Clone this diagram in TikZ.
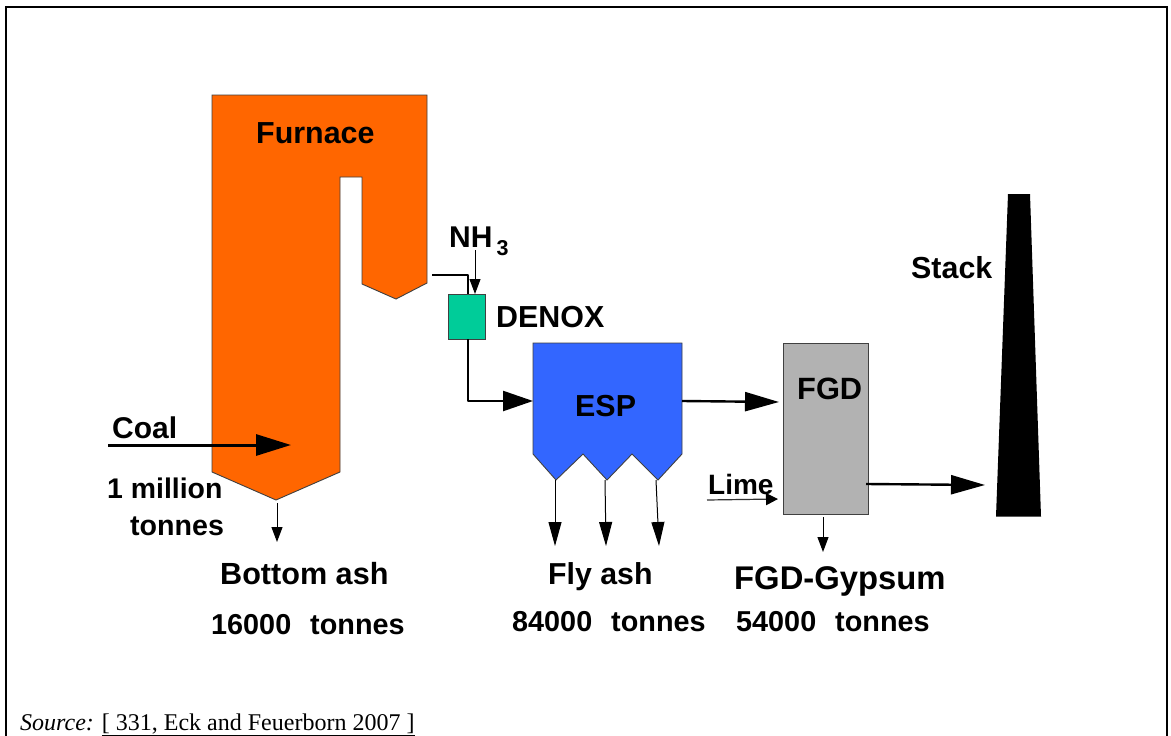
\documentclass[tikz,border=0pt]{standalone}
\usepackage{fontspec}
\setmainfont{Liberation Sans}
\newfontfamily\serifsrc{Liberation Serif}
\usetikzlibrary{arrows.meta}
\definecolor{furn}{HTML}{FF6600}
\definecolor{espc}{HTML}{3366FF}
\definecolor{denoxc}{HTML}{00CC99}
\definecolor{fgdc}{HTML}{B2B2B2}
\tikzset{
  x=1pt,y=-1pt,
  lab/.style={inner sep=0pt,anchor=base west,font=\bfseries\fontsize{#1}{32}\selectfont},
  lab/.default=30.4,
  shapeline/.style={draw=black!75,line width=0.9pt,line join=miter},
  bigflow/.style={line width=3pt,-{Triangle[length=35pt,width=21pt]}},
  midflow/.style={line width=2.4pt,-{Triangle[length=34pt,width=19pt]}},
  thinflow/.style={line width=1pt,-{Triangle[length=15pt,width=11pt]}},
  flyflow/.style={line width=1pt,-{Triangle[length=24pt,width=13pt]}},
  pipe/.style={line width=2.4pt,line join=round},
  boxn/.style={draw=black!75,line width=0.9pt,inner sep=0pt,anchor=north west},
}
\begin{document}
\begin{tikzpicture}
\useasboundingbox (0,0) rectangle (1171,736);
\fill[white] (0,0) rectangle (1171,736);
\draw[line width=1.8pt] (6,740) -- (6,7) -- (1167,7) -- (1167,740);
% furnace
\draw[shapeline,fill=furn] (212,95) -- (427,95) -- (427,283) -- (396,299) -- (362,284) -- (362,177) -- (340,177) -- (340,472) -- (276,500) -- (212,472) -- cycle;
% ESP
\draw[shapeline,fill=espc] (533,343) -- (682,343) -- (682,454) -- (658,480) -- (632,454) -- (607,480) -- (583,454) -- (556,480) -- (533,454) -- cycle;
% stack
\fill[black] (1008,194) -- (1030,194) -- (1041,516.5) -- (996,516.5) -- cycle;
% boxes
\node[boxn,fill=denoxc,minimum width=36.5pt,minimum height=44.5pt] (denox) at (448,294) {};
\node[boxn,fill=fgdc,minimum width=84.5pt,minimum height=171pt] (fgd) at (783,343) {};
% connector ends
\coordinate (furnout) at (432,275);
\coordinate (bend) at (468,275);
\coordinate (denoxin) at (468,294);
\coordinate (denoxout) at (468,339);
\coordinate (bend2) at (468,401);
\coordinate (espin) at (533,401);
\coordinate (espout) at (682,401);
\coordinate (fgdin) at (779,402);
\coordinate (fgdout) at (866,484);
\coordinate (stackin) at (985,485);
\coordinate (nhtop) at (475,250);
\coordinate (nhend) at (475,294);
\coordinate (coalstart) at (108,445);
\coordinate (coalend) at (291,445);
\coordinate (furnbot) at (277,503);
\coordinate (botend) at (277,542);
\coordinate (hopa) at (555,480);
\coordinate (hopaend) at (555,546);
\coordinate (hopb) at (605,480);
\coordinate (hopbend) at (606,546);
\coordinate (hopc) at (656,480);
\coordinate (hopcend) at (659,546);
\coordinate (limestart) at (707,500);
\coordinate (limeend) at (778,499);
\coordinate (gypstart) at (823,517);
\coordinate (gypend) at (823,552);
% connectors
\draw[pipe] (furnout) -- (bend) -- (denoxin);
\draw[pipe,-{Triangle[length=30pt,width=20pt]}] (denoxout) -- (bend2) -- (espin);
\draw[thinflow] (nhtop) -- (nhend);
\draw[bigflow] (coalstart) -- (coalend);
\draw[thinflow] (furnbot) -- (botend);
\draw[midflow] (espout) -- (fgdin);
\draw[midflow] (fgdout) -- (stackin);
\draw[flyflow] (hopa) -- (hopaend);
\draw[flyflow] (hopb) -- (hopbend);
\draw[flyflow] (hopc) -- (hopcend);
\draw[line width=1.2pt,black!80,-{Triangle[length=12pt,width=12pt,black]}] (limestart) -- (limeend);
\draw[thinflow] (gypstart) -- (gypend);
% labels
\node[lab] (t1) at (256,143) {Furnace};
\node[lab=30] (t2) at (449,247) {NH\raisebox{-8pt}{\fontsize{21.5}{22}\selectfont\hspace{4pt}3}};
\node[lab] (t3) at (496,327) {DENOX};
\node[lab] (t4) at (575,416) {ESP};
\node[lab=30.8] (t5) at (797,399) {FGD};
\node[lab] (t6) at (911,278) {Stack};
\node[lab=30] (t7) at (112,438) {Coal};
\node[lab=28.4] (t8) at (107,498) {1 million};
\node[lab=28.6] (t9) at (130,535) {tonnes};
\node[lab=30.6] (t10) at (220,584) {Bottom ash};
\node[lab=28.8] (t11) at (211,634) {16000\hspace{19pt}tonnes};
\node[lab=30.3] (t12) at (548,584) {Fly ash};
\node[lab=28.8] (t13) at (512,631) {84000\hspace{19pt}tonnes};
\node[lab=28.8] (t14) at (736,631) {54000\hspace{19pt}tonnes};
\node[lab=32.8] (t15) at (734,589) {FGD-Gypsum};
\node[lab=28] (t16) at (708,494) {Lime};
\node[inner sep=0pt,anchor=base west,font=\serifsrc\fontsize{24}{26}\selectfont] (src) at (20,730) {\textit{Source:} \underline{[ 331, Eck and Feuerborn 2007 ]}};
\end{tikzpicture}
\end{document}
